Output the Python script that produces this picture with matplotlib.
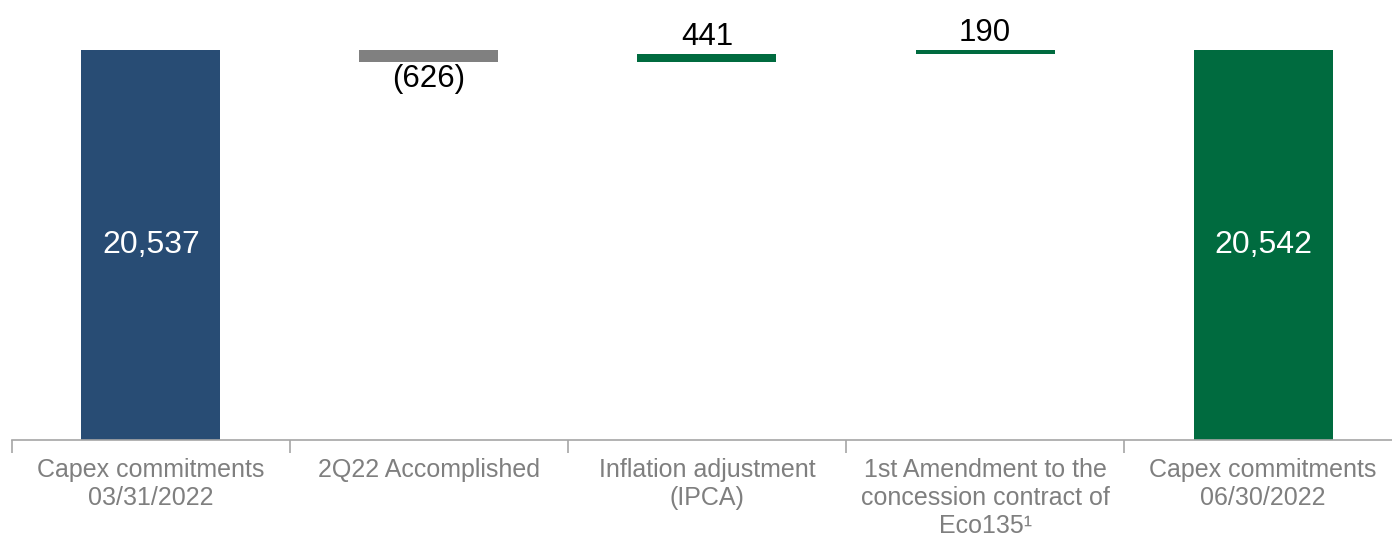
import matplotlib.pyplot as plt
import numpy as np

plt.rcParams['font.family'] = ['Liberation Sans', 'DejaVu Sans']

categories = ['Capex commitments\n03/31/2022', '2Q22 Accomplished',
              'Inflation adjustment\n(IPCA)',
              '1st Amendment to the\nconcession contract of\nEco135\u00b9',
              'Capex commitments\n06/30/2022']
start_value = 20537
changes = [-626, 441, 190]
end_value = 20542

navy = '#284C74'
green = '#006B3F'
grey = '#808080'

# waterfall bases
bottoms = [0]
heights = [start_value]
colors = [navy]
level = start_value
for c in changes:
    if c < 0:
        bottoms.append(level + c)
        heights.append(-c)
        colors.append(grey)
    else:
        bottoms.append(level)
        heights.append(c)
        colors.append(green)
    level += c
bottoms.append(0)
heights.append(end_value)
colors.append(green)

fig = plt.figure(figsize=(13.92, 5.38), dpi=100)
ax = fig.add_axes([0.0086, 0.182, 0.9986, 0.818])

x = np.arange(len(categories))
ax.bar(x, heights, bottom=bottoms, width=0.5, color=colors)

ax.set_xlim(-0.5, len(categories) - 0.5)
ax.set_ylim(0, 23170)

# value labels
ax.text(0, start_value / 2, f'{start_value:,}', ha='center', va='center',
        color='white', fontsize=23)
ax.text(4, end_value / 2, f'{end_value:,}', ha='center', va='center',
        color='white', fontsize=23)
for i, c in enumerate(changes, start=1):
    if c < 0:
        ax.text(i, bottoms[i] - 120, f'({-c:,})', ha='center', va='top',
                fontsize=22.5, color='black')
    else:
        ax.text(i, bottoms[i] + heights[i] + 80, f'{c:,}', ha='center',
                va='bottom', fontsize=22.5, color='black')

for s in ['left', 'right', 'top']:
    ax.spines[s].set_visible(False)
ax.spines['bottom'].set_color('#A6A6A6')
ax.spines['bottom'].set_linewidth(1.2)

ax.set_yticks([])
ax.set_xticks(x)
ax.set_xticklabels(categories, fontsize=18, color='#7F7F7F', linespacing=1.2)
ax.tick_params(axis='x', which='major', length=0, pad=13)
ax.set_xticks(np.arange(-0.5, len(categories), 1.0), minor=True)
ax.tick_params(axis='x', which='minor', length=9, color='#A6A6A6', width=1.2)

fig.savefig('out.png', dpi=100)
